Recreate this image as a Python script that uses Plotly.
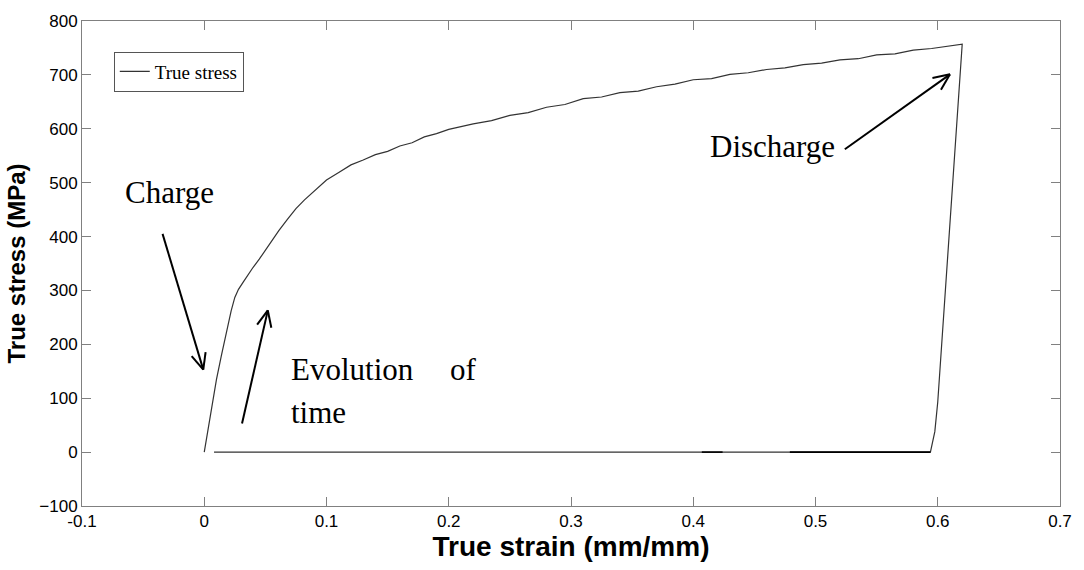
import math
import plotly.graph_objects as go

# Loading branch of the true stress / true strain curve
strain_load = [0.000, 0.004, 0.0067, 0.010, 0.014, 0.018, 0.022, 0.025, 0.028, 0.032,
               0.036, 0.040, 0.045, 0.050, 0.055, 0.061, 0.068, 0.075, 0.082, 0.090,
               0.100, 0.110, 0.120, 0.130, 0.140, 0.150, 0.160, 0.170, 0.180, 0.190,
               0.200, 0.210, 0.220, 0.235, 0.250, 0.265, 0.280, 0.295, 0.310, 0.325,
               0.340, 0.355, 0.370, 0.385, 0.400, 0.415, 0.430, 0.445, 0.460, 0.475,
               0.490, 0.505, 0.520, 0.535, 0.550, 0.565, 0.580, 0.595, 0.610, 0.620]
stress_load = [0, 55, 93, 135, 179, 222, 262, 287, 302, 316,
               330, 343, 358, 375, 392, 411, 432, 452, 468, 485,
               505, 519, 533, 542, 552, 558, 568, 574, 585, 591,
               599, 604, 609, 615, 625, 630, 640, 645, 656, 659,
               667, 670, 678, 683, 691, 693, 701, 704, 710, 713,
               719, 722, 728, 730, 737, 739, 746, 749, 754, 757]

# Unloading branch and return along the zero-stress baseline
strain_unload = [0.600, 0.5976, 0.594, 0.008]
stress_unload = [93, 38, 0, 0]

# Baseline segments where the record overlaps itself
strain_overlap = [0.407, 0.424, None, 0.479, 0.594]
stress_overlap = [0, 0, None, 0, 0]

# Axis settings
x_range = [-0.1, 0.7]
y_range = [-100, 800]
x_ticks = [-0.1, 0, 0.1, 0.2, 0.3, 0.4, 0.5, 0.6, 0.7]
x_ticklabels = ["-0.1", "0", "0.1", "0.2", "0.3", "0.4", "0.5", "0.6", "0.7"]
y_ticks = [-100, 0, 100, 200, 300, 400, 500, 600, 700, 800]

# Text labels: (text, x, y)
labels = [
    ("Charge", -0.0667, 481),
    ("Evolution", 0.0691, 153),
    ("of", 0.1992, 153),
    ("time", 0.0691, 73),
    ("Discharge", 0.4122, 568),
]

# Arrows: (tail, tip)
arrows = [
    ((-0.0341, 405), (-0.0008, 153)),
    ((0.0309, 53), (0.052, 263)),
    ((0.524, 562), (0.610, 701)),
]

W, H = 1084, 570
M = dict(l=82, r=18, t=13, b=64)
plot_w = W - M["l"] - M["r"]
plot_h = H - M["t"] - M["b"]
kx = plot_w / (x_range[1] - x_range[0])
ky = plot_h / (y_range[1] - y_range[0])

fig = go.Figure()

fig.add_trace(go.Scatter(
    x=strain_load + strain_unload,
    y=stress_load + stress_unload,
    mode="lines",
    name="True stress",
    line=dict(color="#333333", width=1.2),
))
fig.add_trace(go.Scatter(
    x=strain_overlap, y=stress_overlap, mode="lines",
    line=dict(color="#000000", width=1.6),
    showlegend=False, hoverinfo="skip",
))


def arrow_xy(tail, tip, head_len=18, head_ang=24):
    """Shaft plus open V head, head sized in screen pixels."""
    dx = (tip[0] - tail[0]) * kx
    dy = (tip[1] - tail[1]) * ky
    a = math.atan2(dy, dx)
    xs = [tail[0], tip[0], None]
    ys = [tail[1], tip[1], None]
    for s in (1, -1):
        b = a + math.pi + s * math.radians(head_ang)
        xs += [tip[0], tip[0] + head_len * math.cos(b) / kx, None]
        ys += [tip[1], tip[1] + head_len * math.sin(b) / ky, None]
    return xs, ys


for tail, tip in arrows:
    ax, ay = arrow_xy(tail, tip)
    fig.add_trace(go.Scatter(
        x=ax, y=ay, mode="lines",
        line=dict(color="#000000", width=2),
        showlegend=False, hoverinfo="skip",
    ))

for text, lx, ly in labels:
    fig.add_annotation(
        x=lx, y=ly, text=text, showarrow=False,
        xanchor="left", yanchor="middle",
        font=dict(family="Liberation Serif, Times New Roman, serif", size=31, color="#000"),
    )

axis_common = dict(
    showline=True, linecolor="#808080", linewidth=1,
    mirror="ticks", ticks="inside", ticklen=9, tickcolor="#808080",
    showgrid=False, zeroline=False,
    tickfont=dict(family="Liberation Sans, Arial, sans-serif", size=17, color="#000"),
)

fig.update_xaxes(
    range=x_range, tickvals=x_ticks, ticktext=x_ticklabels,
    title=dict(text="<b>True strain (mm/mm)</b>", standoff=2,
               font=dict(family="Liberation Sans, Arial, sans-serif", size=28, color="#000")),
    **axis_common,
)
fig.update_yaxes(
    range=y_range, tickvals=y_ticks,
    title=dict(text="<b>True stress (MPa)</b>", standoff=6,
               font=dict(family="Liberation Sans, Arial, sans-serif", size=24, color="#000")),
    **axis_common,
)

fig.update_layout(
    width=W, height=H,
    margin=M,
    paper_bgcolor="white", plot_bgcolor="white",
    legend=dict(
        x=0.0325, y=0.937, xanchor="left", yanchor="top",
        bordercolor="#555", borderwidth=1, bgcolor="white",
        font=dict(family="Liberation Serif, Times New Roman, serif", size=19, color="#000"),
    ),
)

fig.write_html("out.html")
